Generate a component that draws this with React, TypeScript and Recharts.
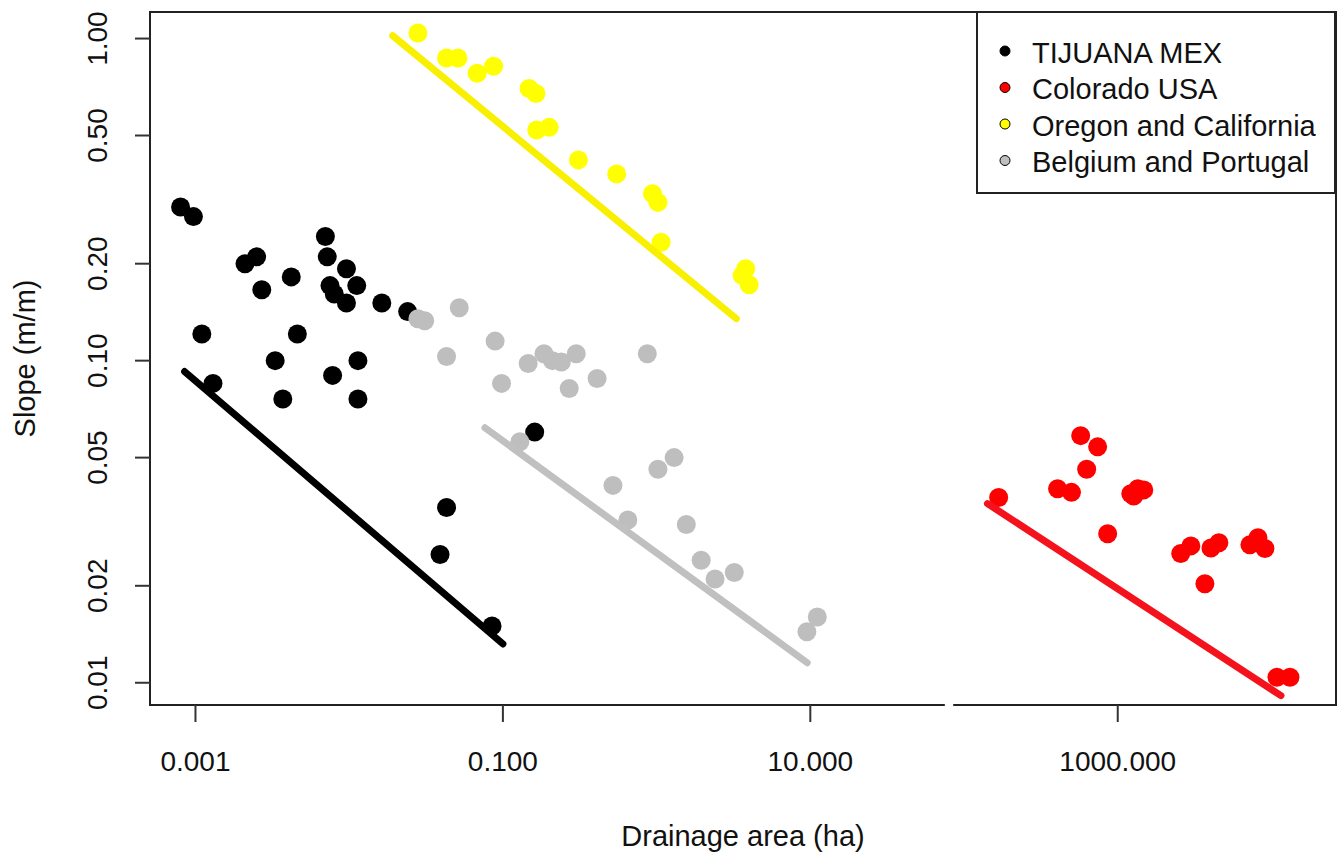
import { ScatterChart, Scatter, XAxis, YAxis, ReferenceArea, ReferenceLine } from 'recharts';

const FONT = '"Liberation Sans", Arial, sans-serif';

// drainage area (ha) / slope (m/m)
const tijuanaArea = [0.0008, 0.00097, 0.0011, 0.0013, 0.0021, 0.0025, 0.0027, 0.0033, 0.0037, 0.0042, 0.0046, 0.007, 0.0072, 0.0075, 0.0078, 0.008, 0.0096, 0.0096, 0.0112, 0.0114, 0.0114, 0.0163, 0.024, 0.043, 0.039, 0.085, 0.161];
const tijuanaSlope = [0.3, 0.28, 0.121, 0.085, 0.2, 0.21, 0.166, 0.1, 0.076, 0.182, 0.121, 0.243, 0.21, 0.171, 0.09, 0.161, 0.193, 0.151, 0.171, 0.1, 0.076, 0.151, 0.142, 0.035, 0.025, 0.015, 0.06];

const coloradoArea = [168, 406, 500, 574, 740, 628, 860, 1216, 1350, 1477, 1270, 2570, 2990, 3690, 4040, 4550, 7240, 8170, 9070, 10860, 13200];
const coloradoSlope = [0.0376, 0.04, 0.039, 0.0585, 0.054, 0.046, 0.029, 0.0386, 0.04, 0.0397, 0.038, 0.0252, 0.0266, 0.0203, 0.0262, 0.0272, 0.0268, 0.0282, 0.0261, 0.0104, 0.0104];

const oregonArea = [0.028, 0.043, 0.051, 0.068, 0.087, 0.148, 0.164, 0.166, 0.2, 0.31, 0.55, 0.94, 1.02, 1.07, 3.8, 3.6, 4.0];
const oregonSlope = [1.04, 0.87, 0.87, 0.78, 0.82, 0.7, 0.675, 0.52, 0.53, 0.42, 0.38, 0.33, 0.31, 0.233, 0.193, 0.184, 0.172];

const belgiumArea = [0.028, 0.031, 0.052, 0.043, 0.089, 0.098, 0.146, 0.185, 0.21, 0.24, 0.3, 0.27, 0.41, 0.87, 0.129, 0.52, 0.65, 1.02, 1.3, 1.56, 1.95, 2.4, 3.2, 9.5, 11.1];
const belgiumSlope = [0.135, 0.133, 0.146, 0.103, 0.115, 0.085, 0.098, 0.105, 0.1, 0.099, 0.105, 0.082, 0.088, 0.105, 0.056, 0.041, 0.032, 0.046, 0.05, 0.031, 0.024, 0.021, 0.022, 0.0144, 0.016];

// fitted lines (end points)
const tijuanaFitArea = [0.00085, 0.1];
const tijuanaFitSlope = [0.0925, 0.0132];
const coloradoFitArea = [142, 11530];
const coloradoFitSlope = [0.036, 0.00912];
const oregonFitArea = [0.0192, 3.3];
const oregonFitSlope = [1.02, 0.135];
const belgiumFitArea = [0.0764, 9.55];
const belgiumFitSlope = [0.0619, 0.01154];

const xTicks = [0.001, 0.1, 10, 1000];
const yTicks = [0.01, 0.02, 0.05, 0.1, 0.2, 0.5, 1];

const X_DOMAIN = [0.000506, 26300];
const Y_DOMAIN = [0.00853, 1.209];

const zip = (xs: number[], ys: number[]) => xs.map((x, i) => ({ x, y: ys[i] }));

const series = [
  { name: 'TIJUANA MEX', color: '#000000', lineColor: '#000000', pts: zip(tijuanaArea, tijuanaSlope), fit: zip(tijuanaFitArea, tijuanaFitSlope) },
  { name: 'Colorado USA', color: '#ff0000', lineColor: '#f4121c', pts: zip(coloradoArea, coloradoSlope), fit: zip(coloradoFitArea, coloradoFitSlope) },
  { name: 'Oregon and California', color: '#ffff00', lineColor: '#f8f000', pts: zip(oregonArea, oregonSlope), fit: zip(oregonFitArea, oregonFitSlope) },
  { name: 'Belgium and Portugal', color: '#bebebe', lineColor: '#c0c0c0', pts: zip(belgiumArea, belgiumSlope), fit: zip(belgiumFitArea, belgiumFitSlope) },
];

const XTick = ({ x, payload }: any) => (
  <text x={x} y={771} textAnchor="middle" fontSize={28} fontFamily={FONT} fill="#111">
    {Number(payload.value).toFixed(3)}
  </text>
);

const YTick = ({ y, payload }: any) => (
  <text
    x={97}
    y={y}
    dy="0.35em"
    transform={`rotate(-90, 97, ${y})`}
    textAnchor="middle"
    fontSize={28}
    fontFamily={FONT}
    fill="#111"
  >
    {Number(payload.value).toFixed(2)}
  </text>
);

const XTitle = ({ viewBox }: any) => (
  <text x={viewBox.x + viewBox.width / 2} y={846} textAnchor="middle" fontSize={29} fontFamily={FONT} fill="#111">
    Drainage area (ha)
  </text>
);

const YTitle = ({ viewBox }: any) => (
  <text
    transform="rotate(-90)"
    x={-(viewBox.y + viewBox.height / 2)}
    y={35}
    textAnchor="middle"
    fontSize={29}
    fontFamily={FONT}
    fill="#111"
  >
    Slope (m/m)
  </text>
);

function LegendBox() {
  return (
    <svg width={360} height={184} style={{ position: 'absolute', left: 976, top: 11 }}>
      <rect x={1} y={1} width={358} height={181} fill="#fff" stroke="#222" strokeWidth={2} />
      {series.map((s, i) => (
        <g key={s.name}>
          <circle cx={29} cy={40 + i * 36.5} r={5} fill={s.color} stroke="#000" strokeWidth={1} />
          <text x={56} y={51.5 + i * 36.5} fontSize={29} fontFamily={FONT} fill="#111">
            {s.name}
          </text>
        </g>
      ))}
    </svg>
  );
}

export default function App() {
  return (
    <div style={{ position: 'absolute', left: 0, top: 0, width: 1344, height: 855, background: '#fff' }}>
      <ScatterChart width={1344} height={855} margin={{ top: 12, right: 8, bottom: 0, left: 0 }}>
        <XAxis
          dataKey="x"
          type="number"
          scale="log"
          domain={X_DOMAIN}
          allowDataOverflow
          ticks={xTicks}
          interval={0}
          height={150}
          tickSize={17}
          axisLine={false}
          tickLine={{ stroke: '#333', strokeWidth: 2 }}
          tick={<XTick />}
          label={<XTitle />}
        />
        <YAxis
          dataKey="y"
          type="number"
          scale="log"
          domain={Y_DOMAIN}
          allowDataOverflow
          ticks={yTicks}
          interval={0}
          width={150}
          tickSize={15}
          axisLine={false}
          tickLine={{ stroke: '#333', strokeWidth: 2 }}
          tick={<YTick />}
          label={<YTitle />}
        />
        {series.map((s) => (
          <Scatter
            key={s.name}
            name={s.name}
            data={s.pts}
            isAnimationActive={false}
            shape={(p: any) => <circle cx={p.cx} cy={p.cy} r={9.5} fill={s.color} />}
          />
        ))}
        {series.map((s) => (
          <Scatter
            key={s.name + '-fit'}
            data={s.fit}
            isAnimationActive={false}
            legendType="none"
            line={{ stroke: s.lineColor, strokeWidth: 7, strokeLinecap: 'round' }}
            shape={() => <g />}
          />
        ))}
        <ReferenceArea
          x1={X_DOMAIN[0]}
          x2={X_DOMAIN[1]}
          y1={Y_DOMAIN[0]}
          y2={Y_DOMAIN[1]}
          fill="none"
          stroke="#222"
          strokeWidth={2}
          ifOverflow="visible"
        />
        <ReferenceLine
          segment={[{ x: 75, y: Y_DOMAIN[0] }, { x: 85, y: Y_DOMAIN[0] }]}
          stroke="#fff"
          strokeWidth={4}
          ifOverflow="visible"
        />
      </ScatterChart>
      <LegendBox />
    </div>
  );
}
